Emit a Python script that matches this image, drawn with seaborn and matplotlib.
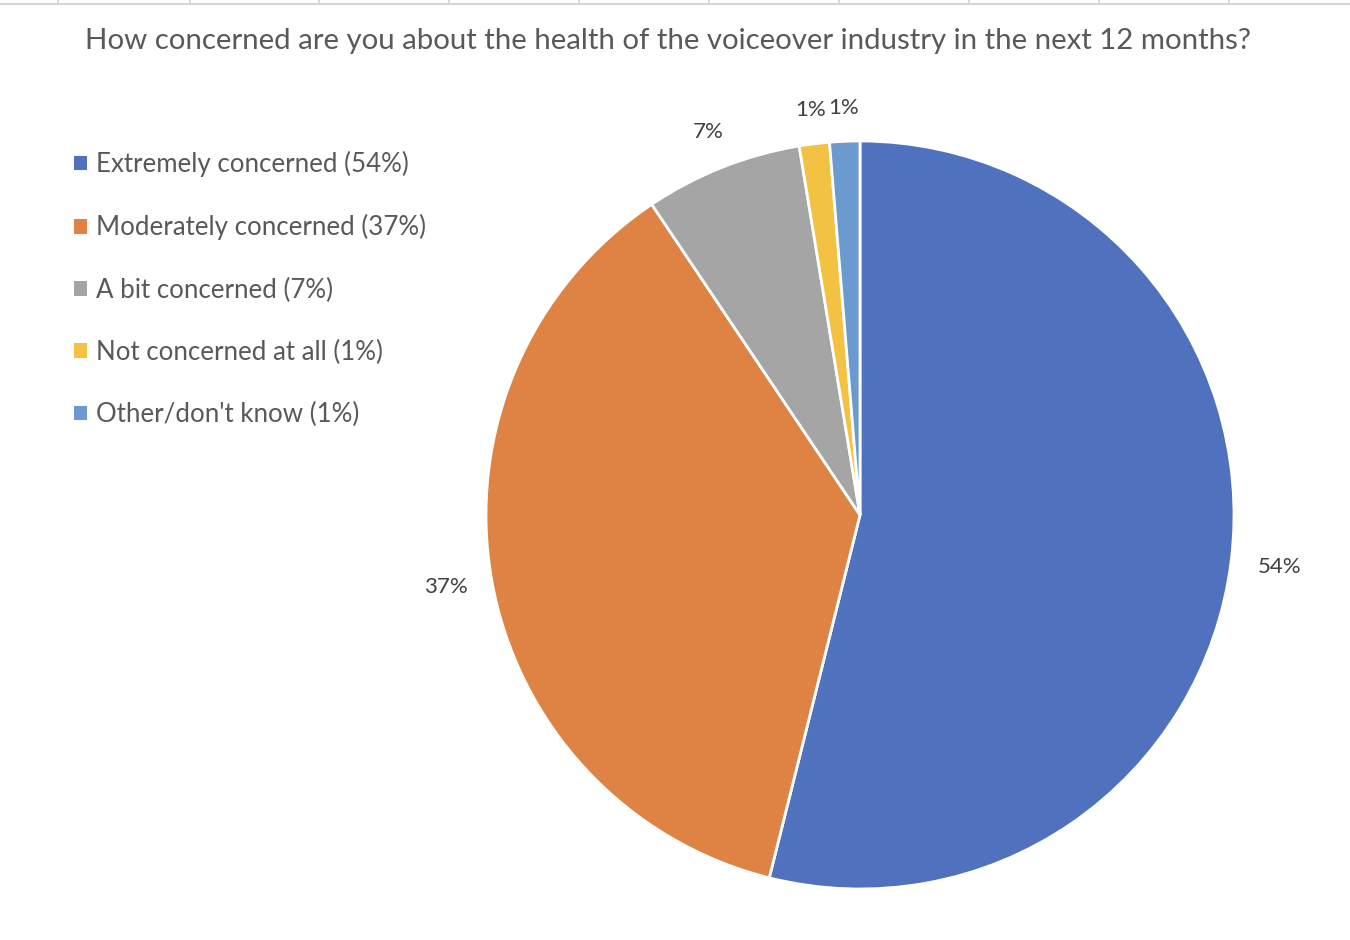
import matplotlib
matplotlib.use("Agg")
import matplotlib.pyplot as plt
import matplotlib.patches as mpatches
from matplotlib.lines import Line2D
import seaborn as sns

# survey answers (share of respondents, %)
categories = ["Extremely concerned", "Moderately concerned", "A bit concerned",
              "Not concerned at all", "Other/don't know"]
shares = [53.9, 36.7, 6.8, 1.3, 1.3]
colors = ["#4F71BE", "#DE8344", "#A5A5A5", "#F4C242", "#6A9AD0"]
title = "How concerned are you about the health of the voiceover industry in the next 12 months?"

sns.set_theme(style="white")
plt.rcParams["font.family"] = ["Lato", "DejaVu Sans"]

fig = plt.figure(figsize=(13.5, 9.4), dpi=100)
fig.patch.set_facecolor("white")

# spreadsheet cell borders peeking in at the top
fig.add_artist(Line2D([0, 1], [1 - 4 / 940] * 2, color="#d4d4d4", lw=1.5))
for gx in [58, 190, 319, 449, 579, 709, 839, 969, 1099, 1229]:
    fig.add_artist(Line2D([gx / 1350] * 2, [1 - 4 / 940, 1], color="#d4d4d4", lw=1.2))

fig.text(0.495, 1 - 41 / 940, title, ha="center", va="center",
         fontsize=21.2, color="#595959")

ax = fig.add_axes([(860 - 374) / 1350, (940 - 889) / 940, 748 / 1350, 748 / 940])
wedges, texts, autotexts = ax.pie(
    shares, colors=colors, startangle=90, counterclock=False,
    autopct="%.0f%%", pctdistance=1.0,
    wedgeprops=dict(edgecolor="white", linewidth=2),
    textprops=dict(fontsize=16, color="#404040"),
)
# excel pulls the labels of the thin slices a bit closer in
for t, k in zip(autotexts, [1.13, 1.125, 1.10, 1.09, 1.09]):
    x, y = t.get_position()
    t.set_position((x * k, y * k))
ax.set_xlim(-1, 1)
ax.set_ylim(-1, 1)
ax.set_aspect("equal")
ax.axis("off")

total = sum(shares)
handles = [mpatches.Patch(facecolor=c, edgecolor="none") for c in colors]
labels = [f"{c} ({round(v / total * 100)}%)" for c, v in zip(categories, shares)]
leg = fig.legend(handles, labels, loc="upper left",
                 bbox_to_anchor=(74 / 1350, 1 - 151 / 940),
                 frameon=False, fontsize=18.6, handlelength=0.5, handleheight=0.5,
                 handletextpad=0.35, labelspacing=1.44, borderaxespad=0,
                 borderpad=0)
for t in leg.get_texts():
    t.set_color("#595959")

fig.savefig("out.png", dpi=100, facecolor="white")
